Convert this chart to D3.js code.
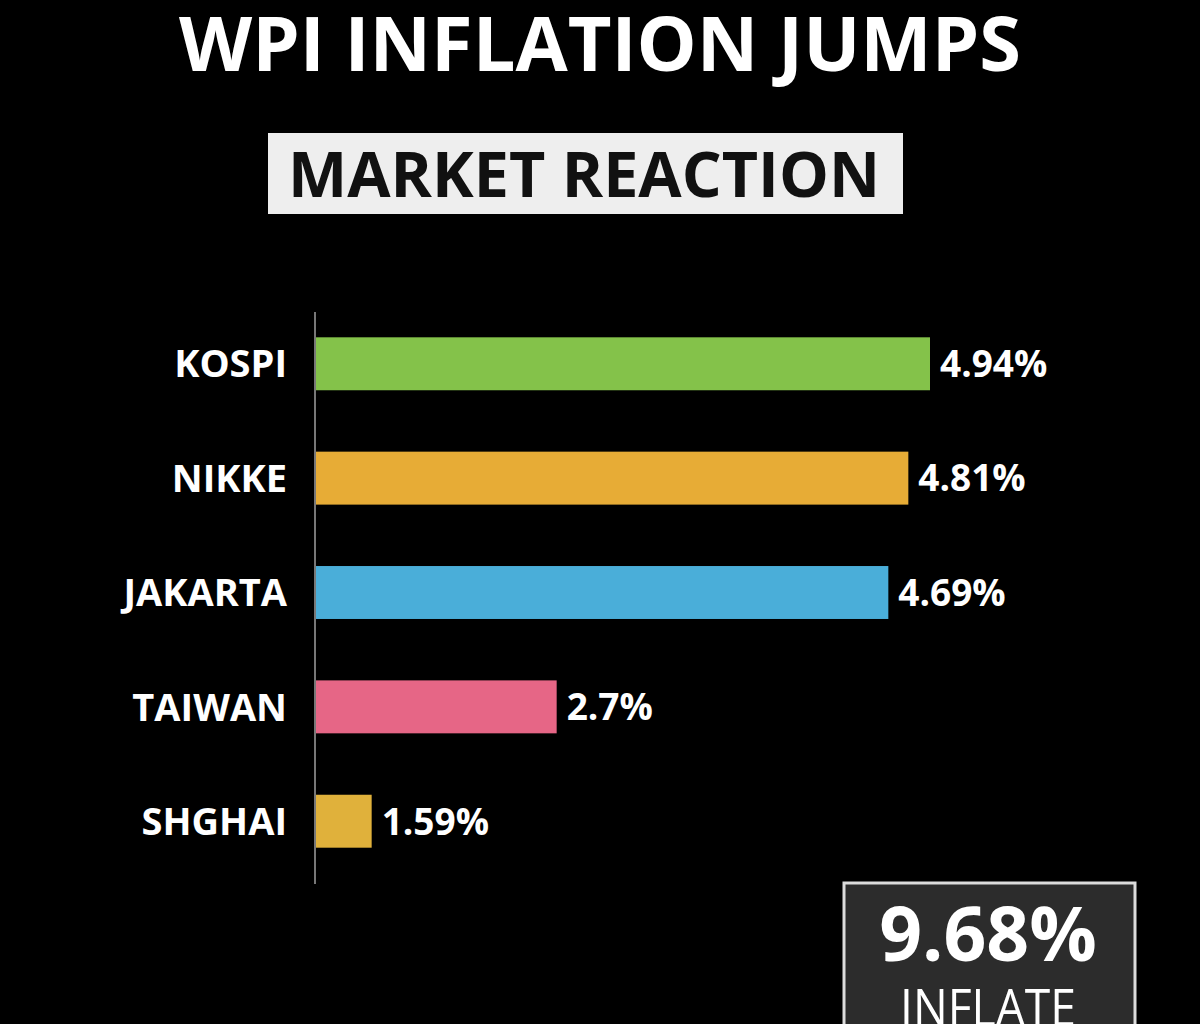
<!DOCTYPE html>
<html>
<head>
<meta charset="utf-8">
<script src="https://cdn.jsdelivr.net/npm/d3@7"></script>
<style>
  html, body { margin: 0; padding: 0; background: #000; }
  svg { display: block; font-family: "Open Sans", "Noto Sans", sans-serif; }
</style>
</head>
<body>
<svg width="1200" height="1024"></svg>
<script>
// chart data
const markets = ['KOSPI', 'NIKKE', 'JAKARTA', 'TAIWAN', 'SHGHAI'];
const changes = [4.94, 4.81, 4.69, 2.7, 1.59];
const barColors = ['#84c24a', '#e7ac36', '#4aaed9', '#e66686', '#e0b13b'];
const headline = 'WPI INFLATION JUMPS';
const subhead = 'MARKET REACTION';
const inflation = 9.68;
const inflationLabel = 'INFLATE';

const svg = d3.select('svg');
const W = 1200;

// title
svg.append('text')
    .attr('x', W / 2).attr('y', 71)
    .attr('text-anchor', 'middle')
    .attr('fill', '#fff')
    .attr('font-size', 76).attr('font-weight', 700)
    .attr('textLength', 842).attr('lengthAdjust', 'spacingAndGlyphs')
    .text(headline);

// subtitle box
svg.append('rect')
    .attr('x', 268).attr('y', 133).attr('width', 635).attr('height', 81)
    .attr('fill', '#eeeeee');
svg.append('text')
    .attr('x', 584).attr('y', 197)
    .attr('text-anchor', 'middle')
    .attr('fill', '#111')
    .attr('font-size', 63).attr('font-weight', 700)
    .attr('textLength', 592).attr('lengthAdjust', 'spacingAndGlyphs')
    .text(subhead);

// scales
const x0 = 315;
const x = d3.scaleLinear()
    .domain([1.25, d3.max(changes)])
    .range([x0, 930]);

const y = d3.scaleBand()
    .domain(markets)
    .range([311, 874])
    .paddingInner(0.537)
    .paddingOuter(0.23);

const rows = markets.map((m, i) => ({name: m, value: changes[i], color: barColors[i]}));

// bars
svg.append('g').selectAll('rect').data(rows)
    .enter().append('rect')
    .attr('x', x0)
    .attr('y', d => y(d.name))
    .attr('width', d => x(d.value) - x0)
    .attr('height', y.bandwidth())
    .attr('fill', d => d.color);

// axis line
svg.append('line')
    .attr('x1', x0).attr('x2', x0)
    .attr('y1', 312).attr('y2', 884)
    .attr('stroke', '#777').attr('stroke-width', 2);

// category labels
svg.append('g').selectAll('text').data(rows)
    .enter().append('text')
    .attr('x', 287)
    .attr('y', d => y(d.name) + y.bandwidth() / 2)
    .attr('dy', '0.36em')
    .attr('text-anchor', 'end')
    .attr('fill', '#fff')
    .attr('font-size', 38).attr('font-weight', 700)
    .text(d => d.name);

// value labels
svg.append('g').selectAll('text').data(rows)
    .enter().append('text')
    .attr('x', d => x(d.value) + 10)
    .attr('y', d => y(d.name) + y.bandwidth() / 2)
    .attr('dy', '0.36em')
    .attr('fill', '#fff')
    .attr('font-size', 37).attr('font-weight', 700)
    .text(d => d.value + '%');

// inflation box
svg.append('rect')
    .attr('x', 844).attr('y', 883).attr('width', 291).attr('height', 160)
    .attr('fill', '#2c2c2c')
    .attr('stroke', '#dcdcdc').attr('stroke-width', 3);
svg.append('text')
    .attr('x', 988).attr('y', 961)
    .attr('text-anchor', 'middle')
    .attr('fill', '#fff')
    .attr('font-size', 75).attr('font-weight', 700)
    .text(inflation + '%');
svg.append('text')
    .attr('x', 988).attr('y', 1026)
    .attr('text-anchor', 'middle')
    .attr('fill', '#fff')
    .attr('font-size', 52).attr('font-weight', 400)
    .attr('textLength', 176).attr('lengthAdjust', 'spacingAndGlyphs')
    .text(inflationLabel);
</script>
</body>
</html>
